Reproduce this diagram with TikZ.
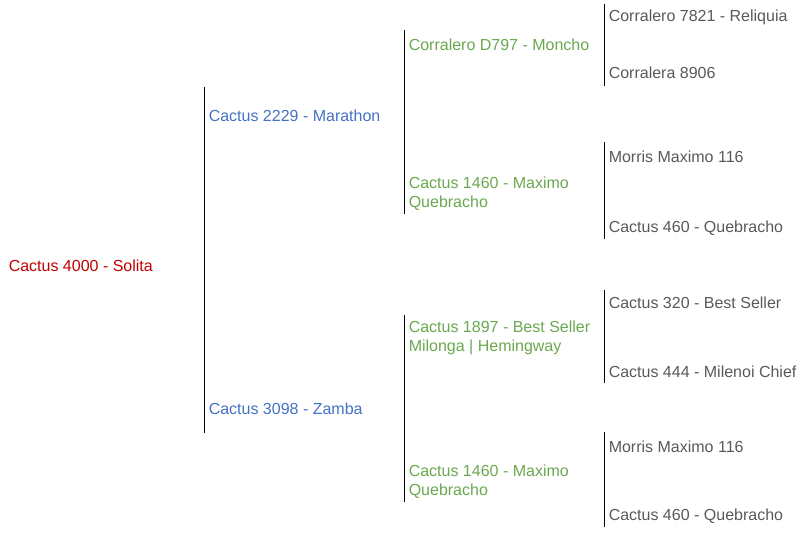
\documentclass[tikz,border=0pt]{standalone}
\usepackage{fontspec}
\setmainfont{Liberation Sans}
\usepackage{xcolor}
\usetikzlibrary{positioning}
\definecolor{dam}{HTML}{C00000}
\definecolor{parent}{HTML}{4472C4}
\definecolor{grand}{HTML}{6AA84F}
\definecolor{great}{HTML}{595959}
\tikzset{%
horse/.style={anchor=west,inner sep=0pt,font=\fontsize{12}{14.25}\selectfont,align=left},
gen0/.style={horse,text=dam},
gen1/.style={horse,text=parent},
gen2/.style={horse,text=grand},
gen3/.style={horse,text=great},
bracket/.style={draw=black,line width=0.75pt}
}

\begin{document}
\begin{tikzpicture}[x=0.75pt,y=-0.75pt]
    \useasboundingbox (0,0) rectangle (807,535);

    \node[gen0] (solita) at (8.5,266) {Cactus 4000 - Solita};

    \node[gen1] (marathon) at (208.5,116) {Cactus 2229 - Marathon};
    \node[gen1] (zamba) at (208.5,409) {Cactus 3098 - Zamba};

    \node[gen2] (moncho) at (408.5,45) {Corralero D797 - Moncho};
    \node[gen2] (maximoA) at (408.5,193.5) {Cactus 1460 - Maximo\\Quebracho};
    \node[gen2] (bestseller) at (408.5,337.5) {Cactus 1897 - Best Seller\\Milonga | Hemingway};
    \node[gen2] (maximoB) at (408.5,481.5) {Cactus 1460 - Maximo\\Quebracho};

    \node[gen3] (reliquia) at (608.5,17) {Corralero 7821 - Reliquia};
    \node[gen3] (corralera) at (608.5,73) {Corralera 8906};
    \node[gen3] (morrisA) at (608.5,157) {Morris Maximo 116};
    \node[gen3] (quebrachoA) at (608.5,228) {Cactus 460 - Quebracho};
    \node[gen3] (bsA) at (608.5,303) {Cactus 320 - Best Seller};
    \node[gen3] (milenoi) at (608.5,372) {Cactus 444 - Milenoi Chief};
    \node[gen3] (morrisB) at (608.5,447) {Morris Maximo 116};
    \node[gen3] (quebrachoB) at (608.5,516) {Cactus 460 - Quebracho};

    % brackets between generations
    \coordinate (s1) at (204,87);   \coordinate (e1) at (204,433);
    \coordinate (s2) at (404,30);   \coordinate (e2) at (404,214);
    \coordinate (s3) at (404,315);  \coordinate (e3) at (404,502);
    \coordinate (s4) at (604,4);    \coordinate (e4) at (604,86);
    \coordinate (s5) at (604,142);  \coordinate (e5) at (604,239);
    \coordinate (s6) at (604,290);  \coordinate (e6) at (604,383);
    \coordinate (s7) at (604,432);  \coordinate (e7) at (604,527);

    \foreach \i in {1,...,7}
      \draw[bracket] (s\i) -- (e\i);
\end{tikzpicture}
\end{document}
